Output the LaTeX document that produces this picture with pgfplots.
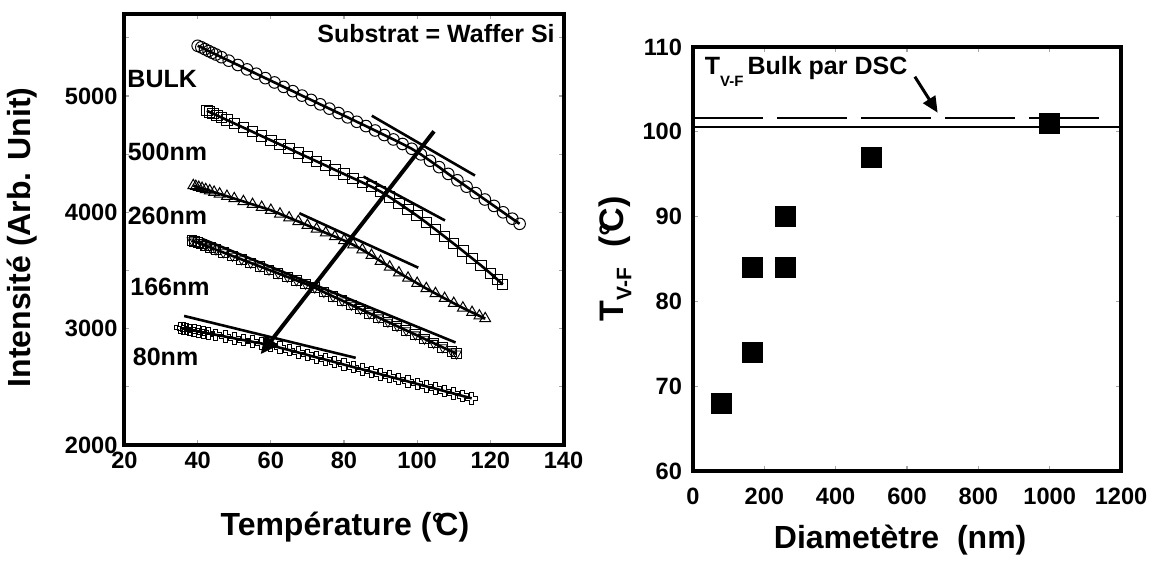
\documentclass[border=0pt]{standalone}
\usepackage{fontspec}
\setmainfont{Liberation Sans}
\usepackage{pgfplots}
\pgfplotsset{compat=1.18}
\usepackage{pgfplotstable}
\usetikzlibrary{arrows.meta}
\newcommand{\degC}{°\kern-0.28em C}

\pgfdeclareplotmark{hollowplus}{%
  \pgfpathmoveto{\pgfqpoint{-0.35\pgfplotmarksize}{\pgfplotmarksize}}%
  \pgfpathlineto{\pgfqpoint{0.35\pgfplotmarksize}{\pgfplotmarksize}}%
  \pgfpathlineto{\pgfqpoint{0.35\pgfplotmarksize}{0.35\pgfplotmarksize}}%
  \pgfpathlineto{\pgfqpoint{\pgfplotmarksize}{0.35\pgfplotmarksize}}%
  \pgfpathlineto{\pgfqpoint{\pgfplotmarksize}{-0.35\pgfplotmarksize}}%
  \pgfpathlineto{\pgfqpoint{0.35\pgfplotmarksize}{-0.35\pgfplotmarksize}}%
  \pgfpathlineto{\pgfqpoint{0.35\pgfplotmarksize}{-\pgfplotmarksize}}%
  \pgfpathlineto{\pgfqpoint{-0.35\pgfplotmarksize}{-\pgfplotmarksize}}%
  \pgfpathlineto{\pgfqpoint{-0.35\pgfplotmarksize}{-0.35\pgfplotmarksize}}%
  \pgfpathlineto{\pgfqpoint{-\pgfplotmarksize}{-0.35\pgfplotmarksize}}%
  \pgfpathlineto{\pgfqpoint{-\pgfplotmarksize}{0.35\pgfplotmarksize}}%
  \pgfpathlineto{\pgfqpoint{-0.35\pgfplotmarksize}{0.35\pgfplotmarksize}}%
  \pgfpathclose\pgfusepathqstroke}

\pgfplotstableread{
T I
40 5431
41 5418
42 5402
43 5386
44 5371
45 5356
46.5 5333
48.5 5303
51 5266
53.5 5228
56 5191
58.5 5153
61 5116
63.5 5078
66 5041
68.5 5003
71 4966
73.5 4928
76 4891
78.5 4853
81 4816
83.5 4778
86 4741
88.5 4703
91 4664
93.5 4626
96 4587
98.5 4546
101 4498
103.5 4443
106 4388
108.5 4330
111 4275
113.5 4220
116 4165
118.5 4110
121 4055
123.5 4000
126 3945
128 3901
}\bulk

\pgfplotstableread{
T I
42.5 4873
43.3 4861
44.2 4848
45.3 4832
46.5 4815
48 4793
50 4764
52.5 4728
55 4692
57.5 4655
60 4619
62.5 4583
65 4547
67.5 4510
70 4474
72.5 4438
75 4402
77.5 4365
80 4329
82.5 4293
85 4257
87.5 4220
90 4178
92.5 4130
95 4078
97.5 4024
100 3970
102.5 3912
105 3852
107.5 3791
110 3730
112.5 3668
115 3605
117.5 3542
120 3476
122 3420
123.4 3380
}\fivehundred

\pgfplotstableread{
T I
38.8 4230
39.5 4223
40.3 4215
41.2 4206
42.2 4196
43.3 4185
44.5 4173
46 4158
48 4138
50 4118
52.5 4093
55 4068
57.5 4043
60 4018
62.5 3986
65 3953
67.5 3921
70 3888
72.5 3856
75 3823
77.5 3791
80 3758
82.5 3721
85 3678
87.5 3630
90 3580
92.5 3530
95 3480
97.5 3435
100 3390
102.5 3345
105 3302
107.5 3260
110 3218
112.5 3178
115 3140
117 3110
118.6 3087
}\twosixty

\pgfplotstableread{
T I
38.4 3758
39.2 3748
40.1 3738
41.1 3726
42.2 3712
43.5 3697
45 3679
47 3655
49.5 3625
52 3595
54.5 3565
57 3535
59.5 3505
62 3475
64.5 3445
67 3415
69.5 3385
72 3352
74.5 3314
77 3277
79.5 3241
82 3204
84.5 3168
87 3131
89.5 3095
92 3058
94.5 3022
97 2985
99.5 2949
102 2912
104.5 2876
107 2839
109.5 2803
110.8 2784
}\onesixtysix

\pgfplotstableread{
T I
35.2 3006
36 3001
36.9 2996
37.9 2990
39 2983
40.2 2976
41.5 2968
43 2959
45 2947
47.5 2932
50 2917
52.5 2902
55 2887
57.5 2872
60 2857
62.5 2836
65 2816
67.5 2795
70 2774
72.5 2753
75 2733
77.5 2712
80 2691
82.5 2670
85 2650
87.5 2629
90 2608
92.5 2587
95 2567
97.5 2546
100 2525
102.5 2504
105 2484
107.5 2463
110 2442
112.5 2421
114.9 2401
}\eighty

\pgfplotsset{
  myframe/.style={
    scale only axis,
    anchor=south west,
    axis line style={line width=2pt},
    tick align=inside,
    tick style={gray!70, line width=0.6pt},
    major tick length=2.5pt,
    minor tick length=2.5pt,
    ticklabel style={font=\bfseries\fontsize{11.8}{11.8}\selectfont},
    /pgf/number format/assume math mode=true,
    /pgf/number format/set thousands separator={},
    label style={font=\bfseries\fontsize{16}{16}\selectfont},
  },
  markstyle/.style={only marks, mark options={line width=0.5pt, draw=black, fill=none}},
}

\begin{document}
\begin{tikzpicture}[x=1pt,y=1pt]
\useasboundingbox (0,0) rectangle (575.5,281.5);
\begin{axis}[myframe,
  at={(62.25pt,59pt)}, width=219.5pt, height=215.25pt,
  xmin=20, xmax=140, ymin=2000, ymax=5700,
  xtick={20,40,...,140},
  ytick={2000,3000,4000,5000},
  minor ytick={2500,3500,4500,5500},
  xlabel={Température (\degC)},
  ylabel={Intensité (Arb. Unit)},
  xlabel style={at={(axis description cs:0.502,-0.19)}, anchor=center},
  ylabel style={at={(axis description cs:-0.233,0.482)}, anchor=center},
]
% markers
\addplot[markstyle, mark=o, mark size=2.9pt] table[x=T,y=I] {\bulk};
\addplot[markstyle, mark=square, mark size=2.6pt] table[x=T,y=I] {\fivehundred};
\addplot[markstyle, mark=triangle, mark size=3.1pt] table[x=T,y=I] {\twosixty};
\addplot[markstyle, mark=square, mark size=2.4pt] table[x=T,y=I] {\onesixtysix};
\addplot[markstyle, mark=triangle, mark size=2.7pt, mark options={rotate=180}] table[x=T,y=I] {\onesixtysix};
\addplot[markstyle, mark=hollowplus, mark size=2.9pt] table[x=T,y=I] {\eighty};
% fitted curves
\addplot[no marks, line width=1.3pt] table[x=T,y=I] {\bulk};
\addplot[no marks, line width=1.3pt] table[x=T,y=I] {\fivehundred};
\addplot[no marks, line width=1.3pt] table[x=T,y=I] {\twosixty};
\addplot[no marks, line width=1.3pt] table[x=T,y=I] {\onesixtysix};
\addplot[no marks, line width=1.3pt] table[x=T,y=I] {\eighty};
% tangent lines
\addplot[no marks, line width=1.3pt] coordinates {(87.6,4830) (115.8,4316)};
\addplot[no marks, line width=1.3pt] coordinates {(85.3,4307) (107.6,3930)};
\addplot[no marks, line width=1.3pt] coordinates {(67.8,3992) (100.3,3524)};
\addplot[no marks, line width=1.3pt] coordinates {(41.1,3773) (110.5,2881)};
\addplot[no marks, line width=1.3pt] coordinates {(36.3,3109) (83.2,2749)};
% arrow
\addplot[no marks, line width=2pt, -{Triangle[length=9pt,width=8pt]}] coordinates {(104.6,4696) (57.2,2780)};
% labels
\node[anchor=west, inner sep=0, font=\bfseries\fontsize{12.5}{12.5}\selectfont] at (axis cs:20.7,5145) {BULK};
\node[anchor=west, inner sep=0, font=\bfseries\fontsize{12.5}{12.5}\selectfont] at (axis cs:20.8,4515) {500nm};
\node[anchor=west, inner sep=0, font=\bfseries\fontsize{12.5}{12.5}\selectfont] at (axis cs:20.8,3973) {260nm};
\node[anchor=west, inner sep=0, font=\bfseries\fontsize{12.5}{12.5}\selectfont] at (axis cs:21.5,3358) {166nm};
\node[anchor=west, inner sep=0, font=\bfseries\fontsize{12.5}{12.5}\selectfont] at (axis cs:22.2,2757) {80nm};
\node[anchor=east, inner sep=0, font=\bfseries\fontsize{12.5}{12.5}\selectfont] at (axis cs:137.7,5533) {Substrat = Waffer Si};
\end{axis}

\begin{axis}[myframe,
  at={(346.5pt,46pt)}, width=214pt, height=212pt,
  xmin=0, xmax=1200, ymin=60, ymax=110,
  xtick={0,200,...,1200},
  ytick={60,70,...,110},
  xticklabel style={yshift=-5pt},
  yticklabel style={xshift=-2pt},
  xlabel={Diametètre\ \ (nm)},
  ylabel={\fontsize{17}{17}\selectfont T\raisebox{-0.45ex}{\fontsize{10.5}{10.5}\selectfont V-F}\hspace{0.6em}(\degC)},
  xlabel style={at={(axis description cs:0.484,-0.163)}, anchor=center},
  ylabel style={at={(axis description cs:-0.182,0.5)}, anchor=center},
]
\addplot[no marks, line width=1pt] coordinates {(0,100.6) (1200,100.6)};
\addplot[no marks, line width=0.9pt, dash pattern=on 35pt off 7pt] coordinates {(0,101.6) (1174,101.6)};
\addplot[only marks, mark=square*, mark size=5pt, black] coordinates {(80,68) (166,74) (166,84) (260,84) (260,90) (500,97) (1000,101)};
\addplot[no marks, line width=1.5pt, -{Triangle[length=8pt,width=7pt]}] coordinates {(622,106.5) (686,102.25)};
\node[anchor=base west, inner sep=0, font=\bfseries\fontsize{12.5}{12.5}\selectfont] at (axis cs:32,106.7) {T\raisebox{-0.9ex}{\fontsize{7.5}{7.5}\selectfont V-F}\,Bulk par DSC};
\end{axis}
\end{tikzpicture}
\end{document}
